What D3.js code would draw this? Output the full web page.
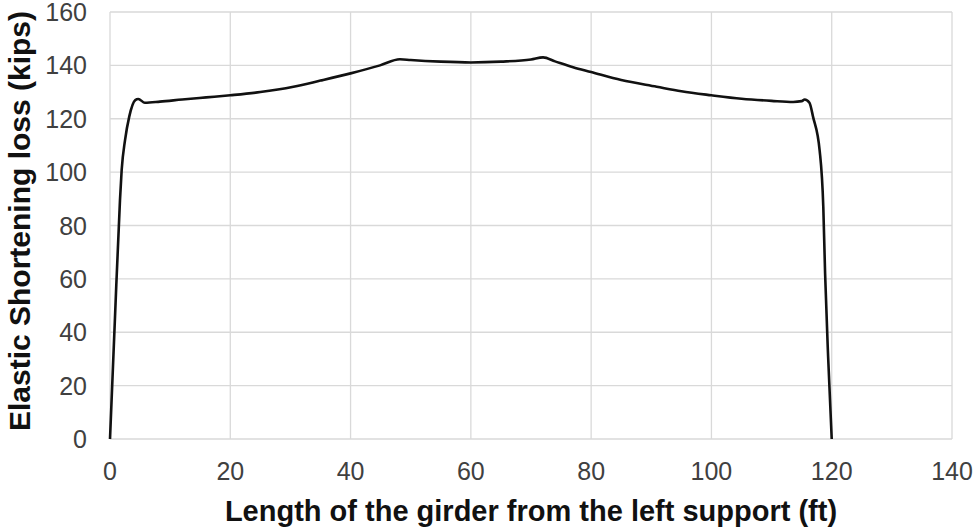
<!DOCTYPE html>
<html>
<head>
<meta charset="utf-8">
<script src="https://cdn.jsdelivr.net/npm/d3@7"></script>
<style>
  body { margin: 0; background: #fff; }
  text { font-family: "Liberation Sans", Arial, sans-serif; }
</style>
</head>
<body>
<svg id="chart" width="977" height="529"></svg>
<script>
// distance from left support (ft)
const lengthFt = [0, 0.8, 1.66, 1.94, 2.5, 3.2, 4.2, 4.7, 5.8, 8.3, 12, 16, 20, 25, 30.5, 35, 40, 44.9, 48.2, 50,
  55, 60, 65, 70, 72, 74, 77, 80, 85, 90.9, 95, 100, 105, 110, 113.6, 115, 115.5, 116.3, 116.9, 118, 118.6, 118.9, 119.4, 120];
// elastic shortening loss (kips)
const esLoss = [0, 44, 89.5, 100.8, 112, 120.8, 127, 127.4, 126, 126.4, 127.2, 128, 128.8, 130, 132, 134.3, 137, 140, 142.3, 142,
  141.4, 141.1, 141.4, 142.2, 143, 141.5, 139.3, 137.5, 134.5, 132, 130.3, 128.8, 127.5, 126.7, 126.3, 126.6, 127.2, 126, 120.7, 108, 87, 62, 31, 0];

const xTicks = [0, 20, 40, 60, 80, 100, 120, 140];
const yTicks = [0, 20, 40, 60, 80, 100, 120, 140, 160];

const svg = d3.select("#chart");
const plotL = 110, plotR = 952, plotT = 12, plotB = 439;

const x = d3.scaleLinear().domain([0, 140]).range([plotL, plotR]);
const y = d3.scaleLinear().domain([0, 160]).range([plotB, plotT]);

// grid
svg.append("g")
  .selectAll("line")
  .data(xTicks)
  .join("line")
  .attr("x1", d => x(d)).attr("x2", d => x(d))
  .attr("y1", plotT).attr("y2", plotB)
  .attr("stroke", "#d9d9d9").attr("stroke-width", 1.3);

svg.append("g")
  .selectAll("line")
  .data(yTicks)
  .join("line")
  .attr("x1", plotL).attr("x2", plotR)
  .attr("y1", d => y(d)).attr("y2", d => y(d))
  .attr("stroke", "#d9d9d9").attr("stroke-width", 1.3);

// tick labels
svg.append("g")
  .selectAll("text")
  .data(yTicks)
  .join("text")
  .attr("x", 87)
  .attr("y", d => y(d) + 9)
  .attr("text-anchor", "end")
  .attr("font-size", 25)
  .attr("fill", "#404040")
  .text(d => d);

svg.append("g")
  .selectAll("text")
  .data(xTicks)
  .join("text")
  .attr("x", d => x(d))
  .attr("y", 480)
  .attr("text-anchor", "middle")
  .attr("font-size", 25)
  .attr("fill", "#404040")
  .text(d => d);

// axis titles
svg.append("text")
  .attr("x", (plotL + plotR) / 2)
  .attr("y", 521)
  .attr("text-anchor", "middle")
  .attr("font-size", 29)
  .attr("font-weight", "bold")
  .attr("fill", "#111")
  .text("Length of the girder from the left support (ft)");

svg.append("text")
  .attr("transform", `translate(30,221) rotate(-90)`)
  .attr("text-anchor", "middle")
  .attr("font-size", 30)
  .attr("font-weight", "bold")
  .attr("fill", "#111")
  .text("Elastic Shortening loss (kips)");

// curve
const pts = lengthFt.map((d, i) => [d, esLoss[i]]);
const line = d3.line()
  .x(d => x(d[0]))
  .y(d => y(d[1]))
  .curve(d3.curveMonotoneX);

svg.append("path")
  .datum(pts)
  .attr("d", line)
  .attr("fill", "none")
  .attr("stroke", "#111")
  .attr("stroke-width", 2.6)
  .attr("stroke-linejoin", "round");
</script>
</body>
</html>
